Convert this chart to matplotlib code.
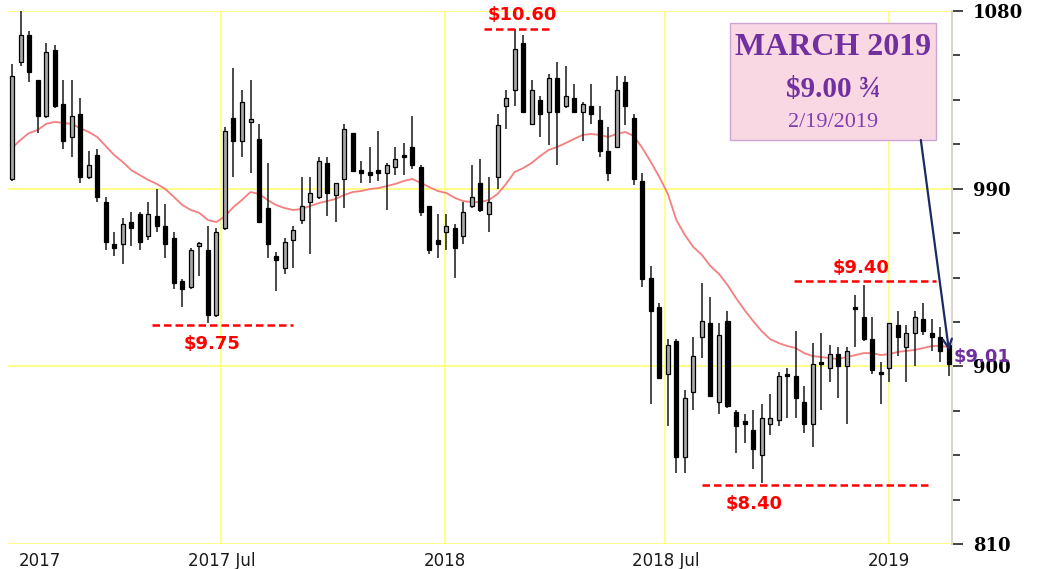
"""Weekly soybean candles 2017-2019 with 20-wk average and price notes."""

import numpy as np
import pandas as pd
import matplotlib
matplotlib.use('Agg')
import matplotlib.pyplot as plt
import matplotlib.dates as mdates
from matplotlib.patches import Rectangle

# --- weekly OHLC (cents/bu) ---
first_week = '2017-01-10'
opens = [995, 1054, 1068, 1045, 1027, 1060, 1033, 1016, 1028, 996,
         1007, 983, 962, 962, 973, 977, 966, 976, 971, 965,
         943, 940, 961, 959, 926, 970, 1026, 1014, 1024, 1015,
         980, 956, 950, 964, 974, 983, 986, 1003, 987, 995,
         1018, 999, 998, 999, 998, 1001, 1007, 1011, 1001, 981,
         964, 968, 970, 966, 981, 993, 977, 996, 1032, 1040,
         1064, 1023, 1035, 1029, 1046, 1032, 1036, 1029, 1032, 1025,
         1009, 1011, 1044, 1026, 994, 945, 930, 896, 913, 854,
         887, 915, 922, 882, 923, 877, 872, 868, 855, 871,
         873, 896, 895, 882, 871, 902, 899, 906, 900, 930,
         925, 914, 897, 899, 921, 910, 917, 924, 917, 915, 911]
highs = [1053, 1080, 1070, 1045, 1064, 1063, 1045, 1045, 1036, 1009,
         1010, 986, 968, 975, 978, 978, 983, 990, 982, 968,
         944, 960, 963, 971, 970, 1021, 1051, 1040, 1045, 1023,
         1003, 958, 965, 971, 996, 996, 1006, 1006, 993, 1023,
         1018, 1004, 1011, 1019, 1003, 1011, 1013, 1027, 1002, 981,
         977, 977, 972, 983, 1002, 1005, 996, 1028, 1040, 1071,
         1068, 1045, 1037, 1048, 1054, 1052, 1043, 1034, 1043, 1032,
         1021, 1047, 1047, 1028, 998, 951, 932, 914, 914, 888,
         915, 942, 935, 922, 928, 878, 876, 878, 881, 886,
         897, 899, 918, 890, 912, 917, 911, 910, 910, 936,
         941, 925, 902, 922, 928, 921, 928, 932, 924, 920, 912]
lows = [994, 1052, 1044, 1018, 1026, 1031, 1010, 1006, 993, 995,
        983, 959, 956, 952, 961, 959, 964, 968, 955, 939,
        930, 939, 946, 922, 925, 969, 996, 1006, 998, 973,
        955, 938, 947, 950, 972, 957, 985, 976, 973, 980,
        999, 993, 993, 994, 979, 997, 997, 1000, 976, 957,
        955, 959, 945, 962, 980, 978, 968, 990, 1020, 1032,
        1029, 1023, 1016, 1012, 1002, 1031, 1029, 1014, 1023, 1006,
        994, 1011, 1022, 992, 940, 881, 894, 870, 846, 846,
        878, 904, 885, 876, 879, 856, 861, 848, 841, 865,
        870, 874, 874, 866, 859, 878, 892, 884, 871, 910,
        913, 896, 881, 892, 905, 892, 900, 916, 908, 902, 895]
closes = [1047, 1068, 1049, 1027, 1059, 1032, 1014, 1027, 996, 1002,
          986, 963, 960, 972, 970, 963, 977, 971, 962, 942,
          939, 959, 962, 926, 968, 1019, 1014, 1034, 1025, 973,
          962, 954, 963, 969, 981, 988, 1004, 988, 993, 1020,
          999, 998, 997, 998, 1002, 1005, 1006, 1002, 978, 959,
          962, 971, 960, 978, 986, 979, 983, 1022, 1036, 1061,
          1029, 1040, 1028, 1046, 1029, 1037, 1029, 1033, 1028, 1009,
          998, 1040, 1032, 995, 944, 928, 894, 911, 854, 884,
          905, 923, 885, 916, 880, 870, 871, 858, 874, 874,
          895, 895, 884, 871, 901, 901, 906, 900, 908, 929,
          914, 898, 896, 922, 915, 917, 925, 918, 915, 908, 901]

# moving average line as drawn on the chart
moving_avg = [1010.6, 1014.7, 1018.2, 1019.7, 1022.8, 1023.8, 1023.3, 1022.8, 1020.7, 1018.7,
              1016.2, 1011.6, 1007.0, 1003.5, 999.4, 996.9, 994.4, 992.4, 989.8, 985.8,
              981.7, 979.2, 977.7, 974.1, 973.1, 976.1, 980.7, 984.3, 988.3, 987.3,
              984.3, 981.7, 980.2, 979.2, 979.7, 981.2, 982.7, 983.7, 984.8, 986.8,
              988.3, 988.8, 989.8, 990.3, 991.3, 992.4, 993.9, 994.9, 992.9, 990.8,
              988.8, 987.8, 985.3, 983.7, 983.2, 983.2, 984.3, 987.3, 992.4, 998.4,
              1000.4, 1003.0, 1006.5, 1009.6, 1011.1, 1013.1, 1015.2, 1017.2, 1017.7, 1017.2,
              1016.2, 1017.7, 1018.7, 1016.7, 1010.6, 1003.5, 995.9, 987.3, 974.1, 966.5,
              960.4, 956.4, 950.8, 946.8, 941.2, 934.6, 928.5, 923.0, 917.9, 913.8,
              911.8, 910.3, 909.3, 906.7, 905.2, 904.7, 904.2, 903.7, 904.7, 905.7,
              906.7, 906.7, 905.7, 906.2, 907.3, 907.8, 908.3, 909.3, 910.3, 910.3, 909.8]

# marked price levels
level_values = [1071, 921, 943, 840]
level_labels = ['$10.60', '$9.75', '$9.40', '$8.40']
level_start = ['2018-02-02', '2017-05-05', '2018-10-15', '2018-07-31']
level_end = ['2018-03-30', '2017-08-29', '2019-02-08', '2019-02-05']
level_label_at = ['2018-03-05', '2017-06-23', '2018-12-09', '2018-09-12']
level_label_above = [True, False, True, False]

x_tick_dates = ['2017-02-02', '2017-07-01', '2018-01-01', '2018-07-01', '2019-01-01']
x_tick_labels = ['2017', '2017 Jul', '2018', '2018 Jul', '2019']
grid_dates = ['2017-07-01', '2018-01-01', '2018-07-01', '2019-01-01']
y_major = [810, 900, 990, 1080]

box_lines = ['MARCH 2019', '$9.00 \u00be', '2/19/2019']
last_label = '$9.01'

opens, highs, lows, closes = map(np.array, (opens, highs, lows, closes))
dates = pd.date_range(first_week, periods=len(closes), freq='7D')
x = mdates.date2num(dates)

# --- Plot ---
fig = plt.figure(figsize=(10.43, 5.69), dpi=100)
ax = fig.add_axes([8 / 1043, 25 / 569, 944 / 1043, 533 / 569])

grid_kw = dict(color='#FFFF80', lw=1.3, zorder=0)
for d in grid_dates:
    ax.axvline(mdates.date2num(pd.Timestamp(d)), **grid_kw)
for v in y_major:
    ax.axhline(v, **grid_kw)

ax.plot(x, moving_avg, color='#F47F7F', lw=1.3, zorder=1.5)

# candles
up = closes >= opens
body_lo = np.minimum(opens, closes)
body_h = np.maximum(np.abs(closes - opens), 1.3)
ax.vlines(x, lows, highs, color='#2a2a2a', lw=1.2, zorder=2)
ax.bar(x[up], body_h[up], bottom=body_lo[up], width=3.3,
       color='#A8A8A8', edgecolor='black', lw=0.9, zorder=3)
ax.bar(x[~up], body_h[~up], bottom=body_lo[~up], width=3.3,
       color='black', edgecolor='black', lw=0.9, zorder=3)

# dashed support / resistance levels
for v, lab, s, e, at, above in zip(level_values, level_labels, level_start,
                                   level_end, level_label_at, level_label_above):
    xs = mdates.date2num([pd.Timestamp(s), pd.Timestamp(e)])
    ax.plot(xs, [v, v], color='#FF0000', lw=1.8, ls=(0, (3, 1.6)), zorder=4,
            clip_on=False)
    ax.annotate(lab, xy=(mdates.date2num(pd.Timestamp(at)), v),
                xytext=(0, 3.5 if above else -7), textcoords='offset points',
                ha='center', va='bottom' if above else 'top',
                color='#FF0000', fontsize=13, fontweight='bold',
                annotation_clip=False, zorder=4)

# last price tag
ax.annotate(last_label, xy=(1, closes[-1]), xycoords=('axes fraction', 'data'),
            xytext=(1, 5), textcoords='offset points', ha='left', va='center',
            color='#7030A0', fontsize=13, fontweight='bold', zorder=6)

# note box + arrow
ax.add_patch(Rectangle((0.765, 0.758), 0.218, 0.2195, transform=ax.transAxes,
                       facecolor='#F9D8E3', edgecolor='#CDA4D6', lw=1,
                       zorder=5, clip_on=False))
ax.text(0.874, 0.931, box_lines[0], transform=ax.transAxes, ha='center',
        va='center', family='Liberation Serif', fontsize=23,
        fontweight='bold', color='#7030A0', zorder=6)
ax.text(0.874, 0.852, box_lines[1], transform=ax.transAxes, ha='center',
        va='center', family='Liberation Serif', fontsize=21,
        fontweight='bold', color='#7030A0', zorder=6)
ax.text(0.874, 0.790, box_lines[2], transform=ax.transAxes, ha='center',
        va='center', family='Liberation Serif', fontsize=16,
        color='#8040B0', zorder=6)
ax.annotate('', xy=(x[-1], 908), xytext=(0.967, 0.758),
            textcoords='axes fraction',
            arrowprops=dict(arrowstyle='->', color='#1B2A63', lw=1.6,
                            shrinkA=0, shrinkB=0, mutation_scale=16),
            zorder=6)

# axes
ax.set_xlim(x[0] - 3.3, x[-1] + 2.5)
ax.set_ylim(810, 1080)
ax.set_xticks(mdates.date2num(pd.to_datetime(x_tick_dates)))
ax.set_xticklabels(x_tick_labels, fontsize=12, color='#1a1a1a')
ax.tick_params(axis='x', length=0, pad=6)

ax.yaxis.tick_right()
ax.set_yticks(y_major)
ax.set_yticks(np.arange(810, 1081, 22.5), minor=True)
ax.set_yticklabels([str(v) for v in y_major], family='DejaVu Serif',
                   fontweight='bold', fontsize=13)
ax.tick_params(axis='y', which='major', length=8, width=1.4, color='#444',
               pad=7)
ax.tick_params(axis='y', which='minor', length=6, width=1.4, color='#444')

for side in ['top', 'left', 'bottom']:
    ax.spines[side].set_visible(False)
ax.spines['right'].set_color('#D8D8CC')
ax.spines['right'].set_linewidth(1.5)

plt.savefig('out.png', dpi=100)
